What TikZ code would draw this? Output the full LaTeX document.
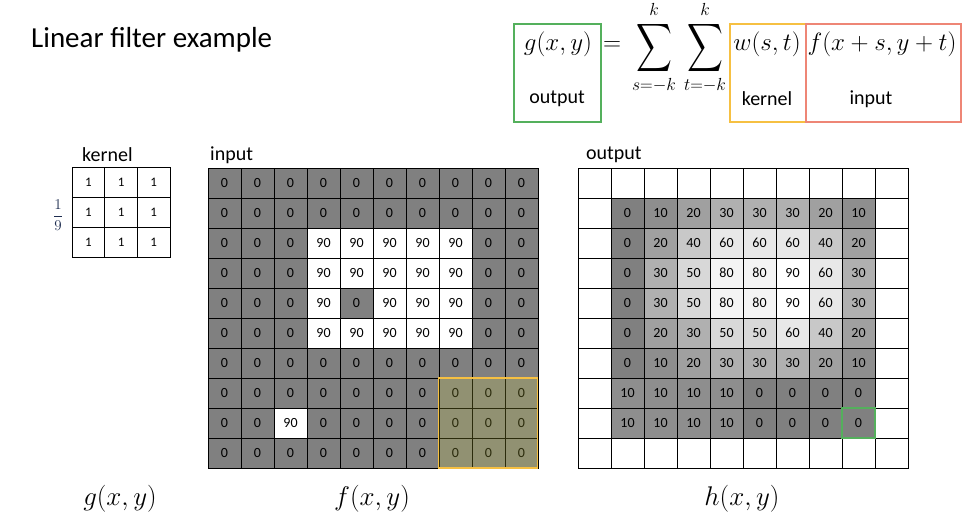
\RequirePackage{fix-cm}
\documentclass[tikz,border=0pt]{standalone}
\usepackage{exscale}
\usepackage[no-math]{fontspec}
\setmainfont{Carlito}
\usepackage{graphicx}
\definecolor{boxgreen}{RGB}{84,176,92}
\definecolor{boxyellow}{RGB}{246,192,66}
\definecolor{boxred}{RGB}{238,134,118}
\definecolor{hlfill}{RGB}{215,215,60}
\definecolor{fraccol}{RGB}{30,45,80}
\definecolor{midgray}{RGB}{128,128,128}
\tikzset{
  cell/.style={draw=black, line width=0.8pt, minimum width=33pt, minimum height=30pt,
    inner sep=0pt, font=\fontsize{14}{16}\selectfont},
  kcell/.style={draw=black, line width=0.8pt, minimum width=32.7pt, minimum height=30.3pt,
    inner sep=0pt, font=\fontsize{13}{15}\selectfont},
  lbl/.style={font=\fontsize{20}{24}\selectfont, inner sep=0pt},
  mathbig/.style={font=\fontsize{25}{30}\selectfont, inner sep=0pt, anchor=base},
  mathlab/.style={font=\fontsize{27}{32}\selectfont, inner sep=0pt, anchor=base},
  eqbox/.style={line width=1.6pt, inner sep=0pt, anchor=north west, minimum height=98pt},
}
\def\invals{{0,0,0,0,0,0,0,0,0,0,
  0,0,0,0,0,0,0,0,0,0,
  0,0,0,90,90,90,90,90,0,0,
  0,0,0,90,90,90,90,90,0,0,
  0,0,0,90,0,90,90,90,0,0,
  0,0,0,90,90,90,90,90,0,0,
  0,0,0,0,0,0,0,0,0,0,
  0,0,0,0,0,0,0,0,0,0,
  0,0,90,0,0,0,0,0,0,0,
  0,0,0,0,0,0,0,0,0,0}}
\def\outvals{{0,10,20,30,30,30,20,10,
  0,20,40,60,60,60,40,20,
  0,30,50,80,80,90,60,30,
  0,30,50,80,80,90,60,30,
  0,20,30,50,50,60,40,20,
  0,10,20,30,30,30,20,10,
  10,10,10,10,0,0,0,0,
  10,10,10,10,0,0,0,0}}
\def\shadepct{{0,11,25,38,57,69,82,88,91,100}}
\newcommand{\bigsum}{\mathop{\vcenter{\hbox{\scalebox{1}[1.35]{$\displaystyle\sum$}}}}}
\begin{document}
\begin{tikzpicture}[x=1pt,y=-1pt]
\useasboundingbox (0,0) rectangle (976,526);
\fill[white] (0,0) rectangle (976,526);

% title
\node[font=\fontsize{29}{34}\selectfont, inner sep=0pt, anchor=base west] (title) at (31,48) {Linear filter example};

% equation boxes
\node[eqbox, draw=boxgreen, minimum width=87pt] (gbox) at (513,23) {};
\node[eqbox, draw=boxyellow, minimum width=76pt] (ybox) at (729,23) {};
\node[eqbox, draw=boxred, minimum width=155pt] (rbox) at (805,23) {};
\node[mathbig] (eqg) at (558,51) {$g(x,y)$};
\node[mathbig] (eqeq) at (612,51) {$=$};
\node[mathbig] (eqs1) at (654,54) {$\displaystyle\bigsum\limits_{s=-k}^{k}$};
\node[mathbig] (eqs2) at (705,54) {$\displaystyle\bigsum\limits_{t=-k}^{k}$};
\node[mathbig] (eqw) at (767,51) {$w(s,t)$};
\node[mathbig] (eqf) at (882,51) {$f(x+s,y+t)$};
\node[lbl] (lout) at (557,99) {output};
\node[lbl] (lker) at (767,99) {kernel};
\node[lbl] (linp) at (871,99) {input};

% grid labels
\node[lbl, anchor=west] (tker) at (82,155) {kernel};
\node[lbl, anchor=west] (tinp) at (210,155) {input};
\node[lbl, anchor=west] (tout) at (586,155) {output};

% kernel
\foreach \kr in {1,2,3}{
  \foreach \kc in {1,2,3}{
    \node[kcell] (k-\kr-\kc) at ({72+32.7*(\kc-0.5)},{167+30.3*(\kr-0.5)}) {1};
  }
}
\node[font=\fontsize{15}{18}\selectfont, text=fraccol, inner sep=0pt] (frac) at (58,215) {$\displaystyle\frac{1}{9}$};

% input grid
\foreach \ir in {1,...,10}{
  \foreach \ic in {1,...,10}{
    \pgfmathtruncatemacro\ival{\invals[(\ir-1)*10+\ic-1]}
    \pgfmathtruncatemacro\ipct{\shadepct[\ival/10]}
    \node[cell, fill=white!\ipct!midgray] (in-\ir-\ic) at ({208+33*(\ic-0.5)},{168+30*(\ir-0.5)}) {\ival};
  }
}
% highlighted window
\node[draw=boxyellow, line width=1.8pt, fill=hlfill, fill opacity=0.2, draw opacity=1,
  minimum width=99pt, minimum height=90pt, inner sep=0pt] (win) at (488,423) {};

% output grid
\foreach \orr in {1,...,10}{
  \foreach \oc in {1,...,10}{
    \pgfmathtruncatemacro\isb{(\orr==1)||(\orr==10)||(\oc==1)||(\oc==10)}
    \ifnum\isb=1
      \node[cell, fill=white] (out-\orr-\oc) at ({578+33*(\oc-0.5)},{168+30*(\orr-0.5)}) {};
    \else
      \pgfmathtruncatemacro\oval{\outvals[(\orr-2)*8+\oc-2]}
      \pgfmathtruncatemacro\opct{\shadepct[\oval/10]}
      \node[cell, fill=white!\opct!midgray] (out-\orr-\oc) at ({578+33*(\oc-0.5)},{168+30*(\orr-0.5)}) {\oval};
    \fi
  }
}
\node[draw=boxgreen, line width=1.6pt, minimum width=33pt, minimum height=30pt, inner sep=0pt] (outsel) at (out-9-9) {};

% bottom labels
\node[mathlab] (lg) at (120,505) {$g(x,y)$};
\node[mathlab] (lf) at (372,505) {$f(x,y)$};
\node[mathlab] (lh) at (742,505) {$h(x,y)$};
\end{tikzpicture}
\end{document}
